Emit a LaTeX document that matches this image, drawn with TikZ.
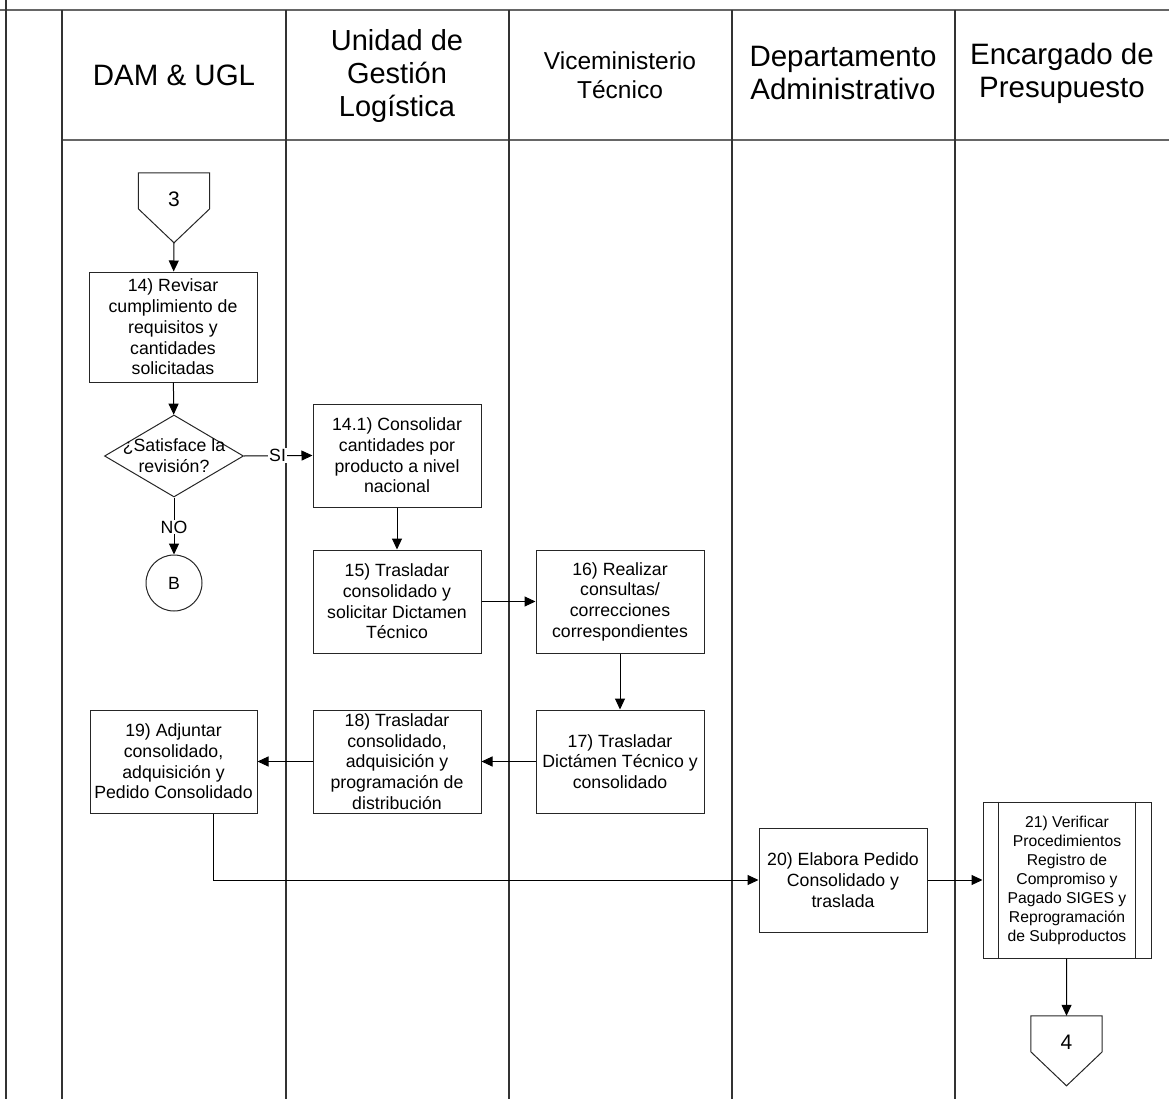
\documentclass[tikz,border=0pt]{standalone}
\usepackage{fontspec}
\setmainfont{Liberation Sans}
\usetikzlibrary{arrows.meta,shapes.geometric,calc}

\begin{document}
\begin{tikzpicture}[x=1pt,y=-1pt,
  lane/.style={line width=1.6pt,draw=black!80},
  rule/.style={line width=1.6pt,draw=black!60},
  shapeline/.style={draw=black!85,line width=1pt},
  bodyfont/.style={font=\fontsize{17.7}{20.7}\selectfont},
  task/.style={shapeline,fill=white,align=center,inner sep=0pt,
    minimum width=168pt,minimum height=103pt,bodyfont},
  offp/.style={inner sep=0pt,minimum width=71pt,minimum height=52pt,
    font=\fontsize{21}{24}\selectfont},
  flow/.style={draw=black,line width=1pt,-{Triangle[length=11pt,width=10pt]}},
  head/.style={align=center,font=\fontsize{28}{33}\selectfont},
  lbl/.style={fill=white,inner sep=1pt,bodyfont},
]
\useasboundingbox (0,0) rectangle (1169,1099);

% swimlane frame
\draw[rule] (0,10) -- (1169,10);
\draw[rule] (62,140) -- (1169,140);
\draw[lane] (6,0) -- (6,1099);
\foreach \lx in {62,286,509,732,955}
  \draw[lane] (\lx,10) -- (\lx,1099);

% lane headers
\node[head,font=\fontsize{29.5}{33}\selectfont] (h1) at (174,75) {DAM \& UGL};
\node[head,font=\fontsize{29}{33}\selectfont] (h2) at (397,76) {Unidad de\\Gestión\\Logística};
\node[head,font=\fontsize{24.5}{29}\selectfont] (h3) at (620,75) {Viceministerio\\Técnico};
\node[head,font=\fontsize{29.5}{33}\selectfont] (h4) at (843,73) {Departamento\\Administrativo};
\node[head,font=\fontsize{29.5}{33}\selectfont] (h5) at (1062,73) {Encargado de\\Presupuesto};

% off-page connector 3
\node[offp] (c3) at (174,199) {3};
\draw[shapeline] (c3.north west) -- (c3.north east) -- ($(c3.north east)+(0,36)$)
  -- ($(c3.north)+(0,70)$) coordinate (c3tip) -- ($(c3.north west)+(0,36)$) -- cycle;

% process steps
\node[task,minimum height=110pt] (b14) at (173,327)
  {14) Revisar\\cumplimiento de\\requisitos y\\cantidades\\solicitadas};
\node[shapeline,diamond,minimum width=139pt,minimum height=82pt,inner sep=0pt,
  label={[align=center,bodyfont]center:{¿Satisface la\\revisión?}}] (dec) at (174,456) {};
\node[shapeline,circle,minimum size=56pt,inner sep=0pt,bodyfont] (cB) at (174,583) {B};

\node[task] (b141) at (397,455.5)
  {14.1) Consolidar\\cantidades por\\producto a nivel\\nacional};
\node[task] (b15) at (397,601.5)
  {15) Trasladar\\consolidado y\\solicitar Dictamen\\Técnico};
\node[task] (b16) at (620,601.5)
  {16) Realizar\\consultas/\\correcciones\\correspondientes};
\node[task] (b17) at (620,761.5)
  {17) Trasladar\\Dictámen Técnico y\\consolidado};
\node[task] (b18) at (397,761.5)
  {18) Trasladar\\consolidado,\\adquisición y\\programación de\\distribución};
\node[task,minimum width=167pt] (b19) at (173.5,761.5)
  {19) Adjuntar\\consolidado,\\adquisición y\\Pedido Consolidado};
\node[task,minimum height=104pt] (b20) at (843,880)
  {20) Elabora Pedido\\Consolidado y\\traslada};
\node[task,minimum height=156pt,font=\fontsize{15.7}{19}\selectfont] (b21) at (1067,880)
  {21) Verificar\\Procedimientos\\Registro de\\Compromiso y\\Pagado SIGES y\\Reprogramación\\de Subproductos};
\draw[shapeline] ($(b21.north west)+(16,0)$) -- ($(b21.south west)+(16,0)$);
\draw[shapeline] ($(b21.north east)+(-16,0)$) -- ($(b21.south east)+(-16,0)$);

% off-page connector 4
\node[offp] (c4) at (1066.5,1042) {4};
\draw[shapeline] (c4.north west) -- (c4.north east) -- ($(c4.north east)+(0,36)$)
  -- ($(c4.north)+(0,70)$) -- ($(c4.north west)+(0,36)$) -- cycle;

% connectors
\draw[flow] (c3tip) -- (b14);
\draw[flow] (b14) -- (dec);
\draw[flow] (dec.east) -- node[lbl,pos=0.49] {SI} (b141.west);
\draw[flow] (dec.south) -- node[lbl,pos=0.52] {NO} (cB.north);
\draw[flow] (b141) -- (b15);
\draw[flow] (b15) -- (b16);
\draw[flow] (b16) -- (b17);
\draw[flow] (b17) -- (b18);
\draw[flow] (b18) -- (b19);
\draw[flow] ($(b19.south)+(39.5,0)$) |- (b20.west);
\draw[flow] (b20) -- (b21);
\draw[flow] (b21) -- (c4.north);
\end{tikzpicture}
\end{document}
